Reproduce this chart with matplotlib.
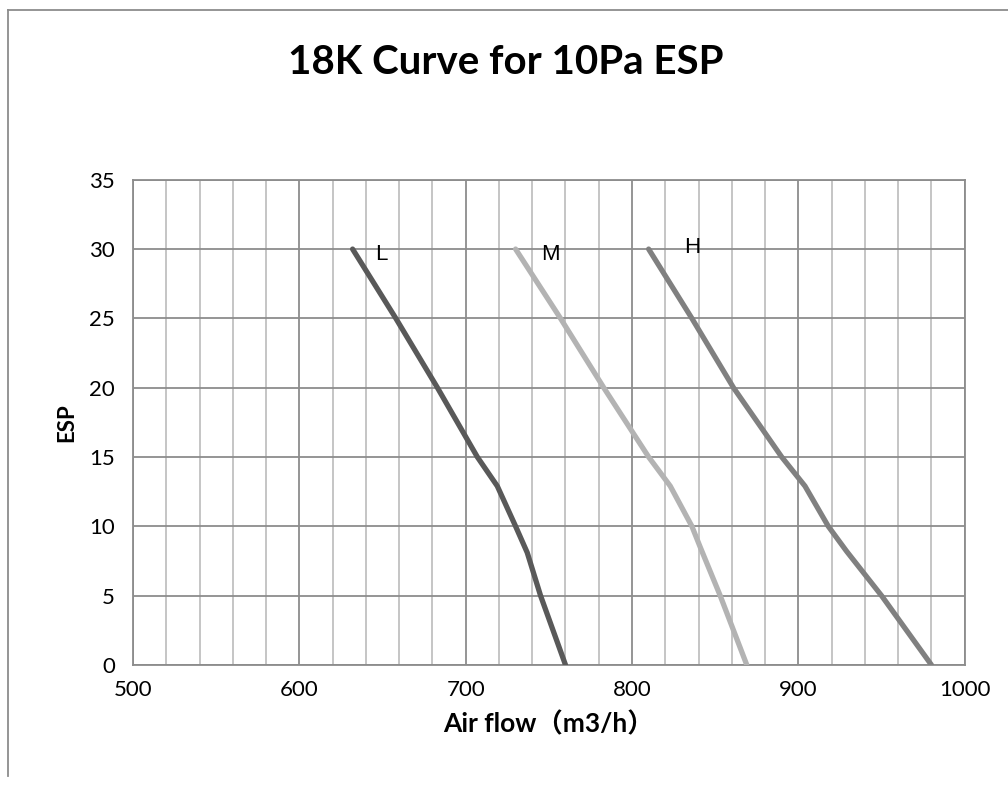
import matplotlib
matplotlib.use("Agg")
import matplotlib.pyplot as plt
from matplotlib.ticker import MultipleLocator
from matplotlib.lines import Line2D

# values
esp_l = [30, 25, 20, 15, 12.9, 10, 8.1, 5, 0]
flow_l = [632, 658, 683, 707, 719, 730, 737, 745, 760]

esp_m = [30, 25, 20, 15, 12.9, 10, 8.5, 5, 0]
flow_m = [730, 757, 783, 810, 823, 836, 841, 853, 869]

esp_h = [30, 25, 20, 15, 12.9, 10, 8.2, 5, 0]
flow_h = [810, 836, 861, 890, 904, 918, 929, 950, 980]

series = [
    ("L", flow_l, esp_l, "#595959", (649.5, 29.6)),
    ("M", flow_m, esp_m, "#b3b3b3", (751, 29.6)),
    ("H", flow_h, esp_h, "#808080", (836, 30.1)),
]

plt.rcParams['font.family'] = ['Lato', 'Noto Sans CJK SC', 'DejaVu Sans']

fig = plt.figure(figsize=(10.08, 7.85), dpi=100)
ax = fig.add_axes([0.132, 0.153, 0.825, 0.618])

for name, xs, ys, col, pos in series:
    ax.plot(xs, ys, color=col, lw=3.8, solid_capstyle='round',
            solid_joinstyle='round', zorder=3)
    ax.text(pos[0], pos[1], name, fontsize=16, family='Liberation Sans',
            ha='center', va='center', zorder=4)

ax.set_xlim(500, 1000)
ax.set_ylim(0, 35)
ax.xaxis.set_major_locator(MultipleLocator(100))
ax.xaxis.set_minor_locator(MultipleLocator(20))
ax.yaxis.set_major_locator(MultipleLocator(5))

ax.grid(which='major', axis='x', color='#8c8c8c', lw=1.3)
ax.grid(which='minor', axis='x', color='#c0c0c0', lw=1.3)
ax.grid(which='major', axis='y', color='#8c8c8c', lw=1.3)
ax.set_axisbelow(True)

for s in ax.spines.values():
    s.set_color('#8c8c8c')
    s.set_linewidth(1.3)

ax.tick_params(axis='both', which='both', length=0, labelsize=16)
ax.tick_params(axis='y', pad=13)
ax.tick_params(axis='x', pad=11)

ax.set_xlabel('Air flow（m3/h）', fontsize=19, fontweight='bold', labelpad=8)
ax.set_ylabel('ESP', fontsize=16, fontweight='bold', labelpad=9)

fig.text(0.502, 0.921, '18K Curve for 10Pa ESP', fontsize=29, fontweight='bold',
         ha='center', va='center')

# outer chart frame (partly visible)
fig.add_artist(Line2D([8 / 1008, 1], [1 - 10 / 785, 1 - 10 / 785], color='#8c8c8c', lw=1.3,
                      transform=fig.transFigure))
fig.add_artist(Line2D([8 / 1008, 8 / 1008], [1 - 10 / 785, 0.012], color='#8c8c8c', lw=1.3,
                      transform=fig.transFigure))

fig.savefig('out.png', dpi=100)
